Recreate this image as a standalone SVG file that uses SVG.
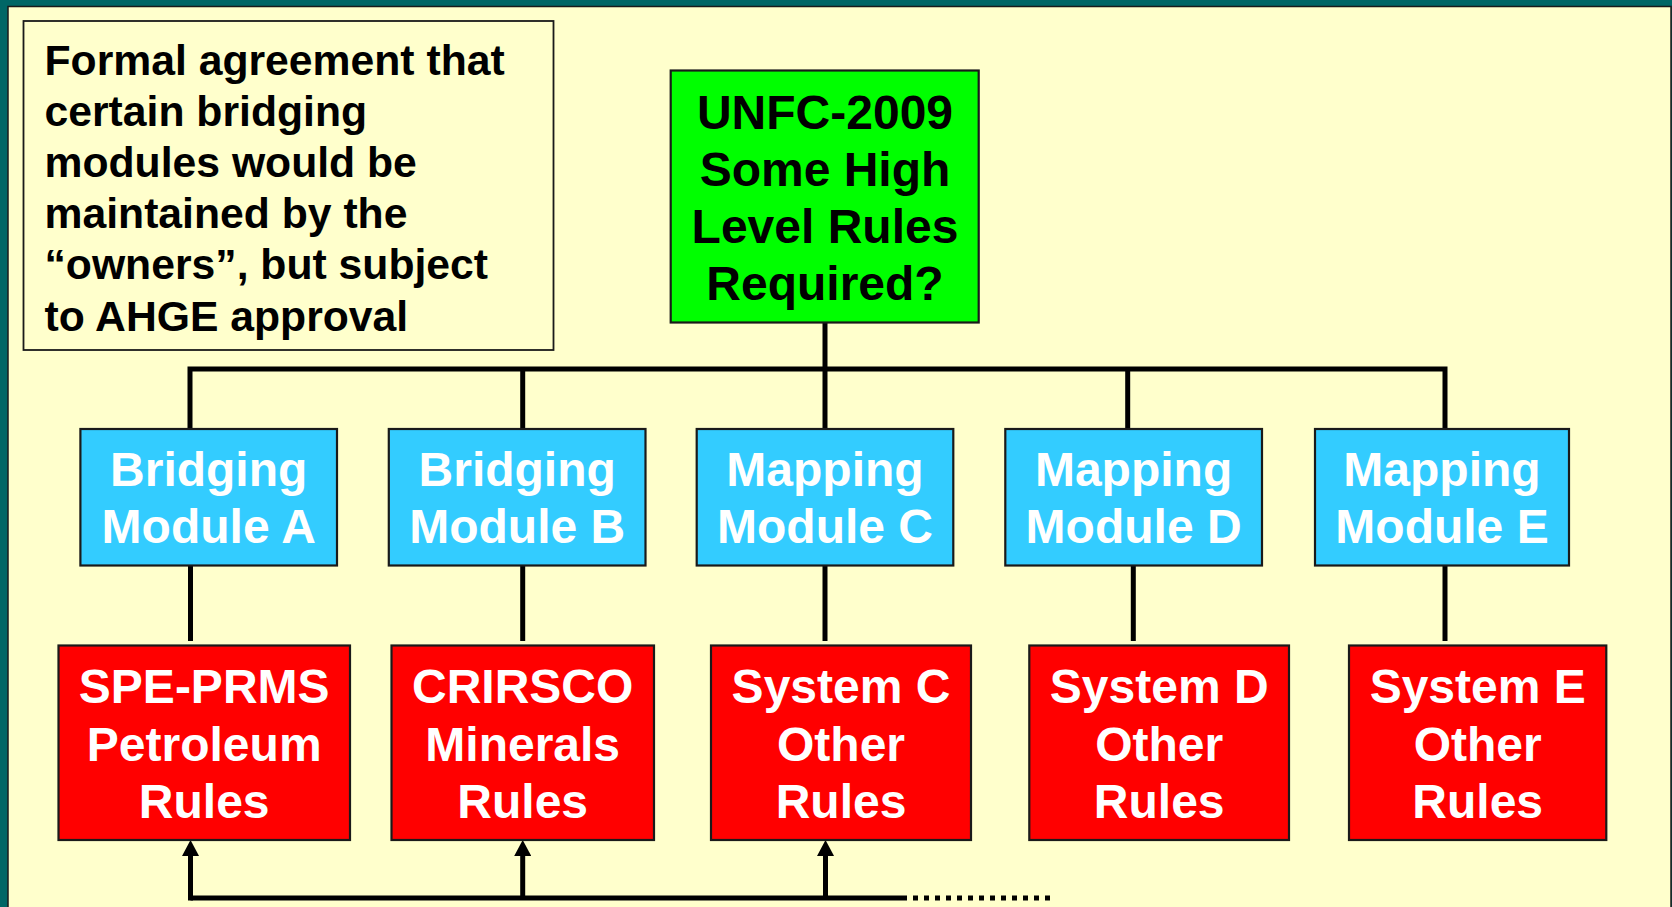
<svg xmlns="http://www.w3.org/2000/svg" width="1672" height="907" viewBox="0 0 1672 907">
  <style>
    .box { stroke: #1a1a1a; stroke-width: 2.2; }
    .note { fill: #FFFFCC; stroke: #1a1a1a; stroke-width: 1.8; }
    .green { fill: #00FF00; }
    .blue { fill: #33CCFF; }
    .red { fill: #FF0000; }
    text { font-family: "Liberation Sans", Arial, sans-serif; font-weight: bold; }
    .t47 { font-size: 48px; text-anchor: middle; }
    .dark { fill: #000000; }
    .light { fill: #FFFFFF; }
    .notetext { font-size: 42.7px; fill: #000000; }
    .wire { fill: none; stroke: #000000; stroke-width: 5; stroke-linejoin: miter; }
  </style>
  <defs>
    <marker id="arrow" viewBox="0 0 16 17" markerWidth="16" markerHeight="17" markerUnits="userSpaceOnUse" refX="0" refY="8.5" orient="auto">
      <path d="M0,0 L16,8.5 L0,17 Z" fill="#000000"/>
    </marker>
  </defs>

  <!-- frame -->
  <rect x="0" y="0" width="1672" height="907" fill="#006666"/>
  <rect x="8" y="6.5" width="1663" height="910" fill="#FFFFCC" stroke="#1a1a1a" stroke-width="1.5"/>

  <!-- connectors -->
  <g id="connectors">
    <path class="wire" d="M825,322 V369"/>
    <path class="wire" d="M190,429 V369 H1445 V429"/>
    <path class="wire" d="M522.7,369 V429"/>
    <path class="wire" d="M825,369 V429"/>
    <path class="wire" d="M1127.7,369 V429"/>
    <path class="wire" d="M190.5,565.5 V641"/>
    <path class="wire" d="M522.7,565.5 V641"/>
    <path class="wire" d="M825,565.5 V641"/>
    <path class="wire" d="M1133.3,565.5 V641"/>
    <path class="wire" d="M1445,565.5 V641"/>
    <path class="wire" d="M190.5,898 H907"/>
    <path class="wire" d="M190.5,900.5 V856" marker-end="url(#arrow)"/>
    <path class="wire" d="M522.7,898 V856" marker-end="url(#arrow)"/>
    <path class="wire" d="M825.5,898 V856" marker-end="url(#arrow)"/>
    <path class="wire" d="M913,898 H1051" stroke-dasharray="5 6"/>
  </g>

  <!-- note -->
  <g id="note">
    <rect class="note" x="23.5" y="21" width="530" height="329"/>
    <text class="notetext" x="44.5" y="74.5">Formal agreement that</text>
    <text class="notetext" x="44.5" y="125.7">certain bridging</text>
    <text class="notetext" x="44.5" y="176.9">modules would be</text>
    <text class="notetext" x="44.5" y="228.1">maintained by the</text>
    <text class="notetext" x="44.5" y="279.3">“owners”, but subject</text>
    <text class="notetext" x="44.5" y="330.5">to AHGE approval</text>
  </g>

  <!-- top -->
  <g id="unfc">
    <rect class="box green" x="670.7" y="70.5" width="308" height="252"/>
    <text class="t47 dark" x="825" y="128.5">UNFC-2009</text>
    <text class="t47 dark" x="825" y="186">Some High</text>
    <text class="t47 dark" x="825" y="243">Level Rules</text>
    <text class="t47 dark" x="825" y="300">Required?</text>
  </g>

  <!-- modules -->
  <g id="module-a">
    <rect class="box blue" x="80.4" y="429" width="256.6" height="136.5"/>
    <text class="t47 light" x="208.7" y="486">Bridging</text>
    <text class="t47 light" x="208.7" y="543.3">Module A</text>
  </g>
  <g id="module-b">
    <rect class="box blue" x="388.8" y="429" width="256.7" height="136.5"/>
    <text class="t47 light" x="517.2" y="486">Bridging</text>
    <text class="t47 light" x="517.2" y="543.3">Module B</text>
  </g>
  <g id="module-c">
    <rect class="box blue" x="696.7" y="429" width="256.6" height="136.5"/>
    <text class="t47 light" x="825" y="486">Mapping</text>
    <text class="t47 light" x="825" y="543.3">Module C</text>
  </g>
  <g id="module-d">
    <rect class="box blue" x="1005.3" y="429" width="256.7" height="136.5"/>
    <text class="t47 light" x="1133.6" y="486">Mapping</text>
    <text class="t47 light" x="1133.6" y="543.3">Module D</text>
  </g>
  <g id="module-e">
    <rect class="box blue" x="1315" y="429" width="254" height="136.5"/>
    <text class="t47 light" x="1442" y="486">Mapping</text>
    <text class="t47 light" x="1442" y="543.3">Module E</text>
  </g>

  <!-- systems -->
  <g id="system-a">
    <rect class="box red" x="58.5" y="645.5" width="291.5" height="194.5"/>
    <text class="t47 light" x="204.2" y="703">SPE-PRMS</text>
    <text class="t47 light" x="204.2" y="760.5">Petroleum</text>
    <text class="t47 light" x="204.2" y="817.5">Rules</text>
  </g>
  <g id="system-b">
    <rect class="box red" x="391.5" y="645.5" width="262.5" height="194.5"/>
    <text class="t47 light" x="522.7" y="703">CRIRSCO</text>
    <text class="t47 light" x="522.7" y="760.5">Minerals</text>
    <text class="t47 light" x="522.7" y="817.5">Rules</text>
  </g>
  <g id="system-c">
    <rect class="box red" x="711" y="645.5" width="260" height="194.5"/>
    <text class="t47 light" x="841" y="703">System C</text>
    <text class="t47 light" x="841" y="760.5">Other</text>
    <text class="t47 light" x="841" y="817.5">Rules</text>
  </g>
  <g id="system-d">
    <rect class="box red" x="1029.3" y="645.5" width="259.7" height="194.5"/>
    <text class="t47 light" x="1159.2" y="703">System D</text>
    <text class="t47 light" x="1159.2" y="760.5">Other</text>
    <text class="t47 light" x="1159.2" y="817.5">Rules</text>
  </g>
  <g id="system-e">
    <rect class="box red" x="1349" y="645.5" width="257.3" height="194.5"/>
    <text class="t47 light" x="1477.7" y="703">System E</text>
    <text class="t47 light" x="1477.7" y="760.5">Other</text>
    <text class="t47 light" x="1477.7" y="817.5">Rules</text>
  </g>
</svg>
